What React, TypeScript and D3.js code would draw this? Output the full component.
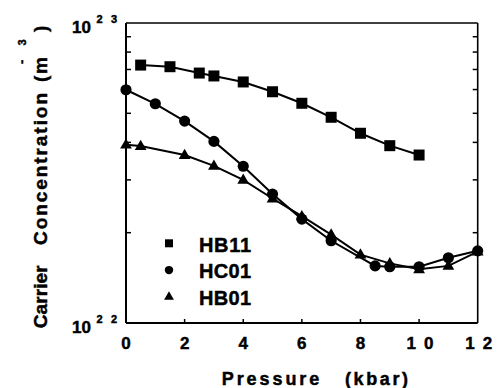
import React from "react";
import * as d3 from "d3";

// Pressure (kbar) and carrier concentration (m^-3) for three samples
const hb11Pressure = [0.5, 1.5, 2.5, 3, 4, 5, 6, 7, 8, 9, 10];
const hb11Conc = [7.24e22, 7.15e22, 6.81e22, 6.66e22, 6.36e22, 5.9e22, 5.4e22, 4.85e22, 4.29e22, 3.9e22, 3.63e22];

const hc01Pressure = [0, 1, 2, 3, 4, 5, 6, 7, 8.5, 9, 10, 11, 12];
const hc01Conc = [5.99e22, 5.38e22, 4.71e22, 4.03e22, 3.33e22, 2.69e22, 2.22e22, 1.88e22, 1.55e22, 1.54e22, 1.54e22, 1.65e22, 1.74e22];

const hb01Pressure = [0, 0.5, 2, 3, 4, 5, 6, 7, 8, 9, 10, 11, 12];
const hb01Conc = [3.93e22, 3.89e22, 3.63e22, 3.34e22, 3.0e22, 2.6e22, 2.27e22, 1.97e22, 1.69e22, 1.58e22, 1.51e22, 1.55e22, 1.73e22];

const xTickValues = [0, 2, 4, 6, 8, 10, 12];
const yMinorTicks = [2e22, 3e22, 4e22, 5e22, 6e22, 7e22, 8e22, 9e22];
const legendNames = ["HB11", "HC01", "HB01"];

const W = 497;
const H = 388;
const FONT = "'Liberation Sans', Arial, Helvetica, sans-serif";

export default function App() {
  const x = d3.scaleLinear().domain([0, 12]).range([126, 477.7]);
  const y = d3.scaleLog().domain([1e22, 1e23]).range([323, 23]);
  const [x0, x1] = x.range();
  const [y0, y1] = y.range();

  const line = d3
    .line<[number, number]>()
    .x((d) => x(d[0]))
    .y((d) => y(d[1]));

  const series = [
    { name: legendNames[0], p: hb11Pressure, c: hb11Conc, type: d3.symbolSquare, size: 121 },
    { name: legendNames[1], p: hc01Pressure, c: hc01Conc, type: d3.symbolCircle, size: 98 },
    { name: legendNames[2], p: hb01Pressure, c: hb01Conc, type: d3.symbolTriangle, size: 60 },
  ];
  const legendSymbols = [
    d3.symbol().type(d3.symbolSquare).size(64)(),
    d3.symbol().type(d3.symbolCircle).size(56)(),
    d3.symbol().type(d3.symbolTriangle).size(42)(),
  ];

  return (
    <svg
      width={W}
      height={H}
      style={{ position: "absolute", left: 0, top: 0, background: "#fff" }}
      fontFamily={FONT}
      fontWeight="bold"
    >
      {/* frame */}
      <line x1={x0} y1={y1} x2={x1} y2={y1} stroke="#000" strokeWidth={1.3} />
      <line x1={x1} y1={y1} x2={x1} y2={y0} stroke="#000" strokeWidth={1.6} />
      <line x1={x0} y1={y0} x2={x1} y2={y0} stroke="#000" strokeWidth={2} />
      <line x1={x0} y1={y1} x2={x0} y2={y0} stroke="#000" strokeWidth={2} />

      {/* inward minor ticks on both vertical sides */}
      {yMinorTicks.map((v) => (
        <g key={v}>
          <line x1={x0} x2={x0 + 5} y1={y(v)} y2={y(v)} stroke="#000" strokeWidth={1.5} />
          <line x1={x1} x2={x1 - 5} y1={y(v)} y2={y(v)} stroke="#000" strokeWidth={1.5} />
        </g>
      ))}

      <g stroke="#000" strokeWidth={0.45}>
        {/* bottom ticks and labels */}
        {xTickValues.map((v) => {
          const label = String(v);
          const two = label.length > 1;
          return (
            <g key={v}>
              {v > 0 && v < 12 && (
                <line x1={x(v)} x2={x(v)} y1={y0} y2={y0 - 4} stroke="#000" strokeWidth={1.5} />
              )}
              {two ? (
                <text x={x(v) - 12.5} y={349} fontSize={17} textLength={27} lengthAdjust="spacing">
                  {label}
                </text>
              ) : (
                <text x={x(v)} y={349} fontSize={17} textAnchor="middle">
                  {label}
                </text>
              )}
            </g>
          );
        })}

        {/* decade labels */}
        {[1e23, 1e22].map((v) => {
          const exp = String(Math.round(Math.log10(v)));
          return (
            <g key={v}>
              <text x={91} y={y(v) + 10} fontSize={17} textAnchor="end">
                10
              </text>
              <text x={96.5} y={y(v) - 0.5} fontSize={11}>
                {exp[0]}
              </text>
              <text x={111} y={y(v) - 0.5} fontSize={11}>
                {exp[1]}
              </text>
            </g>
          );
        })}
      </g>

      {/* series lines and markers */}
      {series.map((s) => {
        const pts = s.p.map((p, i) => [p, s.c[i]] as [number, number]);
        const sym = d3.symbol().type(s.type).size(s.size)();
        return (
          <g key={s.name}>
            <path d={line(pts) || ""} fill="none" stroke="#000" strokeWidth={2} />
            {pts.map((d, i) => (
              <path
                key={i}
                d={sym || ""}
                transform={`translate(${x(d[0])},${y(d[1]) + (s.type === d3.symbolTriangle ? 0.5 : 0)})`}
                fill="#000"
              />
            ))}
          </g>
        );
      })}

      <g stroke="#000" strokeWidth={0.45}>
        {/* legend */}
        {legendNames.map((name, i) => (
          <g key={name}>
            <path d={legendSymbols[i] || ""} transform={`translate(169,${243.3 + i * 26.8})`} fill="#000" strokeWidth={0} />
            <text x={199} y={251.5 + i * 26.5} fontSize={20} textLength={52} lengthAdjust="spacing">
              {name}
            </text>
          </g>
        ))}

        {/* x axis title */}
        <text x={221.7} y={385} fontSize={18} textLength={97.6} lengthAdjust="spacing">
          Pressure
        </text>
        <text x={345} y={385} fontSize={18} textLength={63} lengthAdjust="spacing">
          (kbar)
        </text>

        {/* y axis title */}
        <g transform="translate(46.5,328.3) rotate(-90)">
          <text x={0} y={0} fontSize={19} textLength={63} lengthAdjust="spacing">
            Carrier
          </text>
        </g>
        <g transform="translate(46.5,245) rotate(-90)">
          <text x={0} y={0} fontSize={19} textLength={152} lengthAdjust="spacing">
            Concentration
          </text>
        </g>
        <g transform="translate(46.5,82) rotate(-90)">
          <text x={0} y={0} fontSize={19} textLength={25} lengthAdjust="spacing">
            (m
          </text>
        </g>
        <g transform="translate(26,64) rotate(-90)">
          <text x={0} y={0} fontSize={13}>
            -
          </text>
        </g>
        <g transform="translate(25.5,45.5) rotate(-90)">
          <text x={0} y={0} fontSize={11}>
            3
          </text>
        </g>
        <g transform="translate(46.5,32) rotate(-90)">
          <text x={0} y={0} fontSize={19}>
            )
          </text>
        </g>
      </g>
    </svg>
  );
}
